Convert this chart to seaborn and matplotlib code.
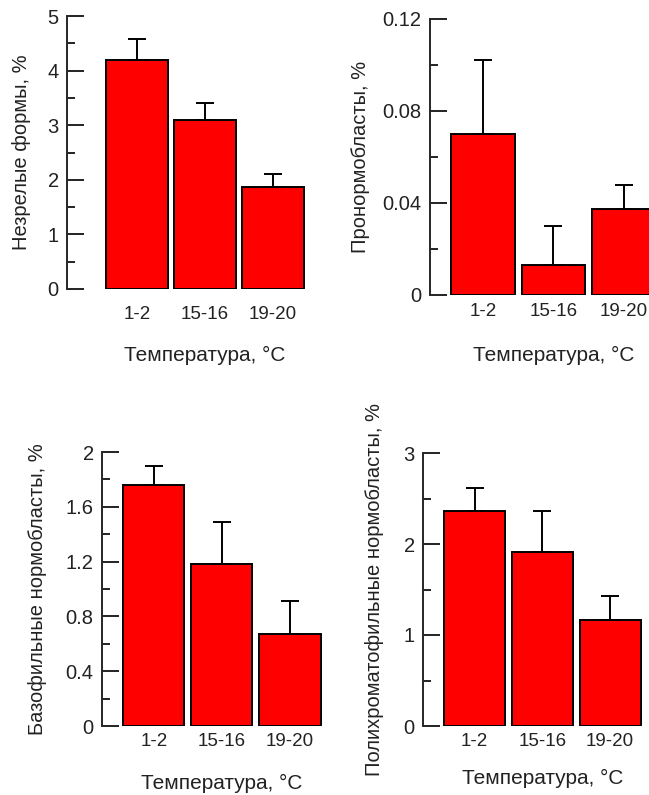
import numpy as np
import pandas as pd
import seaborn as sns
import matplotlib.pyplot as plt
from matplotlib.ticker import AutoMinorLocator, FuncFormatter, MultipleLocator

# temperature groups, same for all panels
temps = ["1-2", "15-16", "19-20"]
xlabel = "Температура, °C"

immature = [4.2, 3.1, 1.87]
immature_se = [0.38, 0.30, 0.23]

pronorm = [0.070, 0.013, 0.0375]
pronorm_se = [0.032, 0.017, 0.0105]

basoph = [1.76, 1.18, 0.67]
basoph_se = [0.14, 0.31, 0.24]

polychr = [2.36, 1.91, 1.165]
polychr_se = [0.26, 0.45, 0.265]

ylabels = ["Незрелые формы, %", "Пронормобласты, %",
           "Базофильные нормобласты, %", "Полихроматофильные нормобласты, %"]

sns.set_theme(style="ticks")
plt.rcParams["font.family"] = ["Liberation Sans", "DejaVu Sans"]

W, H = 649, 795
fig = plt.figure(figsize=(W / 100, H / 100), dpi=100)

# (left, right, top, bottom) in pixels, xlim left, ymax, major step, tick pad, ylabel dx, xlabel dy
layout = [
    (67, 307, 16, 289, -1.03, 5, 1, 12, -45, -66),
    (430, 659, 19, 295, -0.75, 0.12, 0.04, 6, -70, -60),
    (102, 324, 452, 726, -0.76, 2, 0.4, 5, -64, -57),
    (423, 644, 453, 726, -0.76, 3, 1, 5, -48, -52),
]
series = [(immature, immature_se), (pronorm, pronorm_se),
          (basoph, basoph_se), (polychr, polychr_se)]

for (vals, se), lab, lay in zip(series, ylabels, layout):
    l, r, t, b, x0, ymax, step, pad, ydx, xdy = lay
    ax = fig.add_axes([l / W, (H - b) / H, (r - l) / W, (b - t) / H])
    df = pd.DataFrame({"temp": temps, "val": vals})
    sns.barplot(data=df, x="temp", y="val", color="#ff0000", saturation=1,
                edgecolor="black", linewidth=1.4, width=0.9, errorbar=None, ax=ax)
    ax.errorbar(np.arange(len(temps)), vals, yerr=[np.zeros(len(vals)), se],
                fmt="none", ecolor="black", elinewidth=1.4, capsize=6.5, capthick=1.4)
    ax.set_xlim(x0, 2.5)
    ax.set_ylim(0, ymax)
    ax.yaxis.set_major_locator(MultipleLocator(step))
    ax.yaxis.set_minor_locator(AutoMinorLocator(2))
    ax.yaxis.set_major_formatter(FuncFormatter(lambda v, p: "0" if abs(v) < 1e-9 else f"{v:g}"))
    for s in ["top", "right", "bottom"]:
        ax.spines[s].set_visible(False)
    ax.spines["left"].set_linewidth(1.4)
    ax.tick_params(axis="y", which="major", direction="in", length=12, width=1.4,
                   labelsize=14.5, pad=6, colors="#222222")
    ax.tick_params(axis="y", which="minor", direction="in", length=6, width=1.4, colors="#222222")
    ax.tick_params(axis="x", length=0, labelsize=13.5, pad=pad, colors="#222222")
    ax.set_facecolor("none")

    wpx = r - l
    hpx = b - t
    ax.set_ylabel(lab, fontsize=14.5, color="#222222")
    ax.yaxis.label.set_verticalalignment("center")
    ax.yaxis.set_label_coords(ydx / wpx, 0.5)
    ax.set_xlabel(xlabel, fontsize=15, color="#222222")
    ax.xaxis.label.set_verticalalignment("center")
    ax.xaxis.set_label_coords((1 - x0) / (2.5 - x0), xdy / hpx)

fig.savefig("out.png", dpi=100, facecolor="white")
